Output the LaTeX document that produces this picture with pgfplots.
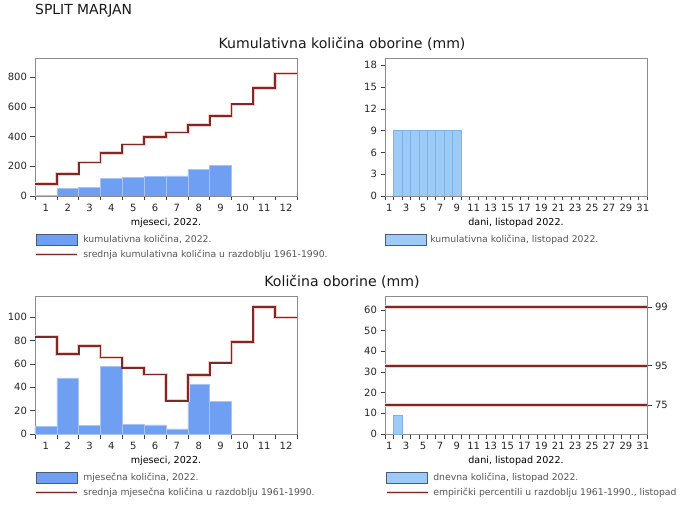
\documentclass[border=0pt]{standalone}
\usepackage{pgfplots}
\pgfplotsset{compat=1.18}
\usepackage{fontspec}
\setmainfont{DejaVu Sans}
\definecolor{mblue}{HTML}{6F9FF2}
\definecolor{msep}{HTML}{A8C4F5}
\definecolor{dblue}{HTML}{9DCBF7}
\definecolor{dsep}{HTML}{7FB1E3}
\definecolor{ldark}{HTML}{7E2828}
\definecolor{lhalo}{HTML}{F6CCC6}
\definecolor{swb}{HTML}{4A5A78}
\definecolor{legtxt}{HTML}{555555}
\pgfplotsset{
 base/.style={
  scale only axis, width=262pt, height=138pt, anchor=south west,
  ymin=0, axis line style={draw=black!45},
  tick align=outside, major tick length=4.5pt,
  xtick pos=bottom, ytick pos=left,
  tick style={black!75, line width=0.5pt},
  /pgf/number format/assume math mode=true,
  tick label style={font=\fontsize{10}{11}\selectfont, text=black!85},
  xlabel style={font=\fontsize{9.6}{11}\selectfont, inner sep=0pt, yshift=-3pt},
  legend style={draw=none, fill=none, at={(0,-0.268)}, anchor=north west, xshift=-0.5pt,
    font=\fontsize{9.3}{11}\selectfont, text=legtxt, inner sep=0pt, row sep=2pt,
    cells={anchor=west}, /tikz/every odd column/.append style={column sep=2pt}},
 },
 month/.style={base, xmin=0.5, xmax=12.5, xtick={0.5,1.5,...,12.5},
   xticklabels={1,2,3,4,5,6,7,8,9,10,11,12,}, xticklabel style={xshift=10.917pt},
   xlabel={mjeseci, 2022.}},
 day/.style={base, xmin=0.5, xmax=31.5, xtick={0.5,1.5,...,31.5},
   xticklabels={1,,3,,5,,7,,9,,11,,13,,15,,17,,19,,21,,23,,25,,27,,29,,31,},
   xticklabel style={xshift=4.226pt}, xlabel={dani, listopad 2022.}},
 barleg/.style={legend image code/.code={\draw[fill=#1, draw=swb, line width=0.6pt] (0pt,-5.5pt) rectangle (41pt,5.5pt);}},
 lineleg/.style={legend image code/.code={\draw[lhalo, line width=3.6pt] (0pt,0pt)--(41pt,0pt); \draw[ldark, line width=1.7pt] (0pt,0pt)--(41pt,0pt);}},
 halo/.style={lhalo, line width=3.6pt, forget plot},
 core/.style={ldark, line width=1.7pt, forget plot},
}
\begin{document}
\begin{tikzpicture}
\path[use as bounding box] (0pt,0pt) rectangle (694pt,512pt);
\node[anchor=west, inner sep=0pt, font=\fontsize{13.9}{15}\selectfont, text=black!90] at (35pt,501pt) {SPLIT MARJAN};
\node[inner sep=0pt, font=\fontsize{14.1}{15}\selectfont, text=black!90] at (342pt,468pt) {Kumulativna količina oborine (mm)};
\node[inner sep=0pt, font=\fontsize{14.1}{15}\selectfont, text=black!90] at (342pt,230pt) {Količina oborine (mm)};

% top left: cumulative monthly
\begin{axis}[month, at={(35pt,316pt)}, ymax=930, ytick={0,200,...,800}]
\addlegendimage{barleg=mblue}\addlegendentry{kumulativna količina, 2022.}
\addlegendimage{lineleg}\addlegendentry{srednja kumulativna količina u razdoblju 1961-1990.}
\addplot[ybar, bar width=1, bar shift=0pt, fill=mblue, draw=msep, line width=0.6pt, forget plot]
 coordinates {(1,5) (2,52) (3,58) (4,116) (5,124) (6,132) (7,136) (8,179) (9,206)};
\addplot[const plot, halo]
 coordinates {(0.5,80) (1.5,149) (2.5,225) (3.5,291) (4.5,348) (5.5,399) (6.5,427) (7.5,477) (8.5,538) (9.5,618) (10.5,726) (11.5,825) (12.5,825)};
\addplot[const plot, core]
 coordinates {(0.5,80) (1.5,149) (2.5,225) (3.5,291) (4.5,348) (5.5,399) (6.5,427) (7.5,477) (8.5,538) (9.5,618) (10.5,726) (11.5,825) (12.5,825)};
\end{axis}

% top right: cumulative daily
\begin{axis}[day, at={(385pt,316pt)}, ymax=19, ytick={0,3,...,18}]
\addlegendimage{barleg=dblue}\addlegendentry{kumulativna količina, listopad 2022.}
\addplot[ybar, bar width=1, bar shift=0pt, fill=dblue, draw=dsep, line width=0.5pt, forget plot]
 coordinates {(2,9.0) (3,9.0) (4,9.0) (5,9.0) (6,9.0) (7,9.0) (8,9.0) (9,9.0)};
\end{axis}

% bottom left: monthly
\begin{axis}[month, at={(35pt,78pt)}, ymax=118, ytick={0,20,...,100}]
\addlegendimage{barleg=mblue}\addlegendentry{mjesečna količina, 2022.}
\addlegendimage{lineleg}\addlegendentry{srednja mjesečna količina u razdoblju 1961-1990.}
\addplot[ybar, bar width=1, bar shift=0pt, fill=mblue, draw=msep, line width=0.6pt, forget plot]
 coordinates {(1,6.8) (2,47.9) (3,7.1) (4,57.8) (5,8.3) (6,7.7) (7,4.3) (8,42.7) (9,27.6)};
\addplot[const plot, halo]
 coordinates {(0.5,83.2) (1.5,68.4) (2.5,75.5) (3.5,65.5) (4.5,56.7) (5.5,51.0) (6.5,28.5) (7.5,50.4) (8.5,61.0) (9.5,78.6) (10.5,108.5) (11.5,99.7) (12.5,99.7)};
\addplot[const plot, core]
 coordinates {(0.5,83.2) (1.5,68.4) (2.5,75.5) (3.5,65.5) (4.5,56.7) (5.5,51.0) (6.5,28.5) (7.5,50.4) (8.5,61.0) (9.5,78.6) (10.5,108.5) (11.5,99.7) (12.5,99.7)};
\end{axis}

% bottom right: daily
\begin{axis}[day, at={(385pt,78pt)}, ymax=66.7, ytick={0,10,...,60}]
\addlegendimage{barleg=dblue}\addlegendentry{dnevna količina, listopad 2022.}
\addlegendimage{lineleg}\addlegendentry{empirički percentili u razdoblju 1961-1990., listopad}
\addplot[ybar, bar width=1, bar shift=0pt, fill=dblue, draw=dsep, line width=0.5pt, forget plot]
 coordinates {(2,9.1)};
\addplot[halo] coordinates {(0.5,14.0) (31.5,14.0)};
\addplot[core] coordinates {(0.5,14.0) (31.5,14.0)};
\addplot[halo] coordinates {(0.5,33.0) (31.5,33.0)};
\addplot[core] coordinates {(0.5,33.0) (31.5,33.0)};
\addplot[halo] coordinates {(0.5,61.3) (31.5,61.3)};
\addplot[core] coordinates {(0.5,61.3) (31.5,61.3)};
\end{axis}
\begin{axis}[base, at={(385pt,78pt)}, xmin=0.5, xmax=31.5, ymax=66.7,
  axis x line=none, axis y line*=right, ytick pos=right, ytick={14,33,61.3}, yticklabels={75,95,99}]
\end{axis}
\end{tikzpicture}
\end{document}
